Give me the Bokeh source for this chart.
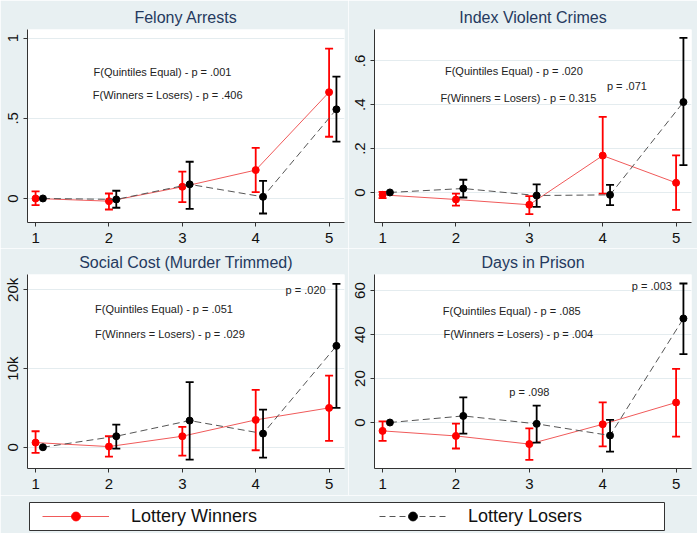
import math
from bokeh.plotting import figure
from bokeh.models import Label, FixedTicker, Range1d, Legend, LegendItem
from bokeh.layouts import column, row
from bokeh.embed import file_html
from bokeh.resources import INLINE

# ---------------- data ----------------
quintiles = [1, 2, 3, 4, 5]

felony_win = [0.0, -0.017, 0.073, 0.177, 0.663]
felony_win_lo = [-0.042, -0.069, -0.023, 0.040, 0.385]
felony_win_hi = [0.044, 0.031, 0.167, 0.315, 0.935]
felony_lose = [0.0, -0.006, 0.088, 0.010, 0.556]
felony_lose_lo = [None, -0.058, -0.065, -0.094, 0.354]
felony_lose_hi = [None, 0.048, 0.229, 0.110, 0.760]

viol_win = [-0.011, -0.032, -0.056, 0.168, 0.044]
viol_win_lo = [-0.026, -0.060, -0.099, -0.005, -0.079]
viol_win_hi = [0.003, -0.005, -0.017, 0.345, 0.169]
viol_lose = [0.0, 0.018, -0.014, -0.011, 0.412]
viol_lose_lo = [None, -0.023, -0.066, -0.058, 0.125]
viol_lose_hi = [None, 0.058, 0.037, 0.035, 0.705]

cost_win = [593, 85, 1398, 3475, 5000]
cost_win_lo = [-720, -1186, -1059, -381, 805]
cost_win_hi = [2034, 1398, 2585, 7288, 9110]
cost_lose = [0, 1398, 3390, 1737, 12881]
cost_lose_lo = [None, -169, -1568, -1314, 5000]
cost_lose_hi = [None, 2881, 8263, 4788, 20763]

days_win = [-3.8, -6.1, -9.8, -0.8, 9.1]
days_win_lo = [-8.3, -11.8, -17.0, -10.8, -6.4]
days_win_hi = [0.5, -0.5, -2.7, 9.2, 24.4]
days_lose = [0.0, 3.0, -0.6, -5.9, 47.3]
days_lose_lo = [None, -5.0, -9.1, -13.2, 31.1]
days_lose_hi = [None, 11.4, 7.7, 1.2, 63.2]

felony_ticks = [0, 0.5, 1]
felony_tick_labels = ["0", ".5", "1"]
viol_ticks = [0, 0.2, 0.4, 0.6]
viol_tick_labels = ["0", ".2", ".4", ".6"]
cost_ticks = [0, 10000, 20000]
cost_tick_labels = ["0", "10k", "20k"]
days_ticks = [0, 20, 40, 60]
days_tick_labels = ["0", "20", "40", "60"]

series_names = ["Lottery Winners", "Lottery Losers"]

# ---------------- style ----------------
BG = "#e8f0f2"
TITLE_COLOR = "#253a5e"
FONT = "Liberation Sans"
LOSER_OFFSET = 0.1
RED = "#ff0000"
RED_LINE = "#f05a5a"
DASH_COLOR = "#555555"


def add_series(p, xs, ys, lo, hi, color, line_color, dash, marker_size):
    p.line(xs, ys, line_color=line_color, line_width=1, line_dash=dash if dash else "solid")
    bx = [x for x, l in zip(xs, lo) if l is not None]
    bl = [l for l in lo if l is not None]
    bh = [h for h in hi if h is not None]
    p.segment(x0=bx, y0=bl, x1=bx, y1=bh, line_color=color, line_width=1.8)
    p.scatter(bx, bl, marker="dash", size=8, line_color=color, line_width=1.8)
    p.scatter(bx, bh, marker="dash", size=8, line_color=color, line_width=1.8)
    p.scatter(xs, ys, marker="circle", size=marker_size, fill_color=color, line_color=color)


def make_panel(title, win, win_lo, win_hi, lose, lose_lo, lose_hi,
               yr, yticks, ylabels, notes, width, height, bl, br, bt, bb, ystand=5):
    p = figure(width=width, height=height, output_backend="svg", toolbar_location=None,
               x_range=Range1d(0.89, 5.21), y_range=Range1d(*yr),
               min_border_left=bl, min_border_right=br, min_border_top=bt, min_border_bottom=bb,
               background_fill_color="white", border_fill_color=BG, outline_line_color=None)
    p.title.text = title
    p.title.align = "center"
    p.title.text_font = FONT
    p.title.text_font_size = "16px"
    p.title.text_font_style = "normal"
    p.title.text_color = TITLE_COLOR
    p.title.standoff = 7

    p.xgrid.visible = False
    p.ygrid.grid_line_color = "#e4ecef"
    p.ygrid.grid_line_width = 1.2

    p.xaxis.ticker = FixedTicker(ticks=quintiles)
    p.yaxis.ticker = FixedTicker(ticks=yticks)
    p.yaxis.major_label_overrides = {t: l for t, l in zip(yticks, ylabels)}
    p.yaxis.major_label_orientation = "parallel"
    for ax in (p.xaxis, p.yaxis):
        ax.axis_line_color = "#333333"
        ax.major_tick_line_color = "#333333"
        ax.major_tick_out = 4
        ax.major_tick_in = 0
        ax.minor_tick_line_color = None
        ax.major_label_text_font = FONT
        ax.major_label_text_font_size = "15px"
        ax.major_label_text_color = "#111111"
    p.xaxis.major_label_standoff = 6
    p.yaxis.major_label_standoff = ystand

    add_series(p, quintiles, win, win_lo, win_hi, RED, RED_LINE, None, 7)
    lose_x = [q + LOSER_OFFSET for q in quintiles]
    add_series(p, lose_x, lose, lose_lo, lose_hi, "black", DASH_COLOR, "7 4", 7)

    for (x, y, t) in notes:
        p.add_layout(Label(x=x, y=y, text=t, text_align="center", text_baseline="middle",
                           text_font=FONT, text_font_size="11px", text_color="#222222"))
    return p


p1 = make_panel("Felony Arrests", felony_win, felony_win_lo, felony_win_hi,
                felony_lose, felony_lose_lo, felony_lose_hi,
                (-0.15, 1.054), felony_ticks, felony_tick_labels,
                [(2.73, 0.79, "F(Quintiles Equal) - p = .001"),
                 (2.80, 0.646, "F(Winners = Losers) - p = .406")],
                348, 248, 27, 4, 29, 26)
p2 = make_panel("Index Violent Crimes", viol_win, viol_win_lo, viol_win_hi,
                viol_lose, viol_lose_lo, viol_lose_hi,
                (-0.137, 0.743), viol_ticks, viol_tick_labels,
                [(2.79, 0.554, "F(Quintiles Equal) - p = .020"),
                 (2.85, 0.43, "F(Winners = Losers) - p = 0.315"),
                 (4.33, 0.484, "p = .071")],
                349, 248, 26, 6, 29, 26)
p3 = make_panel("Social Cost (Murder Trimmed)", cost_win, cost_win_lo, cost_win_hi,
                cost_lose, cost_lose_lo, cost_lose_hi,
                (-2700, 21950), cost_ticks, cost_tick_labels,
                [(2.75, 17585, "F(Quintiles Equal) - p = .051"),
                 (2.83, 14364, "F(Winners = Losers) - p = .029"),
                 (4.68, 20042, "p = .020")],
                348, 247, 27, 4, 26, 27, ystand=2)
p4 = make_panel("Days in Prison", days_win, days_win_lo, days_win_hi,
                days_lose, days_lose_lo, days_lose_hi,
                (-20.9, 67.3), days_ticks, days_tick_labels,
                [(2.76, 50.9, "F(Quintiles Equal) - p = .085"),
                 (2.85, 40.15, "F(Winners = Losers) - p = .004"),
                 (3.0, 13.8, "p = .098"),
                 (4.67, 62, "p = .003")],
                349, 247, 26, 6, 26, 27)

# ---------------- legend ----------------
# the legend strip's range is set away from the data so only the legend keys show
leg = figure(width=697, height=38, output_backend="svg", toolbar_location=None,
             x_range=Range1d(100, 101), y_range=Range1d(100, 101),
             min_border_left=29, min_border_right=33, min_border_top=7, min_border_bottom=3,
             background_fill_color="white", border_fill_color=BG,
             outline_line_color="#333333", outline_line_width=1)
leg.axis.visible = False
leg.grid.visible = False
r1 = leg.line(quintiles, felony_win, line_color=RED_LINE, line_width=1)
r1b = leg.scatter(quintiles, felony_win, marker="circle", size=8, fill_color=RED, line_color=RED)
r2 = leg.line(quintiles, felony_lose, line_color=DASH_COLOR, line_width=1, line_dash="6 4")
r2b = leg.scatter(quintiles, felony_lose, marker="circle", size=7, fill_color="black", line_color="black")
legend = Legend(items=[LegendItem(label=series_names[0], renderers=[r1, r1b]),
                       LegendItem(label=series_names[1], renderers=[r2, r2b])],
                orientation="horizontal", location=(13, 3), padding=0, margin=0,
                spacing=48, glyph_width=67, glyph_height=22, label_standoff=22,
                label_width=200, label_text_font=FONT, label_text_font_size="18px",
                label_text_color="#111111",
                border_line_color=None, background_fill_alpha=0)
leg.add_layout(legend)

layout = column(row(p1, p2), row(p3, p4), leg)
open("out.html", "w").write(file_html(layout, INLINE))
